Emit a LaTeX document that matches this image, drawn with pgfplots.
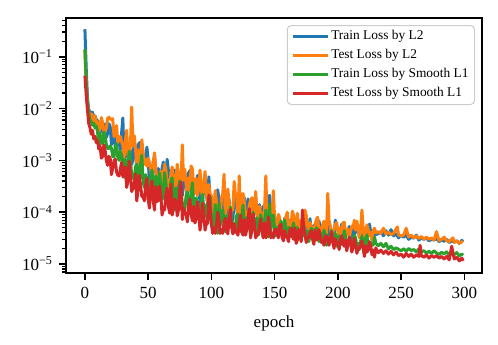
\documentclass[border=0pt]{standalone}
\usepackage{fontspec}
\setmainfont{Liberation Serif}
\usepackage{pgfplots}
\pgfplotsset{compat=1.18}
\definecolor{c0}{HTML}{1F77B4}
\definecolor{c1}{HTML}{FF7F0E}
\definecolor{c2}{HTML}{2CA02C}
\definecolor{c3}{HTML}{D62728}
\newcommand{\dec}[1]{10\raisebox{2.9pt}{\fontsize{6}{6}\selectfont −#1}}
\begin{document}
\begin{tikzpicture}
\useasboundingbox (-33pt,-35.5pt) rectangle (216pt,136.5pt);
\begin{axis}[
  at={(0,0)}, anchor=south west,
  scale only axis, width=208pt, height=127.5pt,
  ymode=log, xmin=-14.95, xmax=313.95, ymin=6.7e-6, ymax=0.56,
  xtick={0,50,...,300},
  ytick={1e-5,1e-4,1e-3,1e-2,1e-1},
  yticklabels={\dec{5},\dec{4},\dec{3},\dec{2},\dec{1}},
  minor ytick={7e-6,8e-6,9e-6,2e-5,3e-5,4e-5,5e-5,6e-5,7e-5,8e-5,9e-5,2e-4,3e-4,4e-4,5e-4,6e-4,7e-4,8e-4,9e-4,2e-3,3e-3,4e-3,5e-3,6e-3,7e-3,8e-3,9e-3,2e-2,3e-2,4e-2,5e-2,6e-2,7e-2,8e-2,9e-2,0.2,0.3,0.4,0.5},
  tick pos=left, tick align=outside,
  major tick length=3.5pt, minor tick length=2pt,
  tick style={black, line width=0.8pt},
  minor tick style={line width=0.6pt},
  axis line style={line width=0.9pt},
  ticklabel style={font=\fontsize{8.5}{10}\selectfont},
  /pgf/number format/assume math mode=true,
  xlabel={epoch},
  xlabel style={font=\fontsize{8.5}{10}\selectfont, yshift=-1.5pt},
  legend cell align=left,
  legend style={at={(1,1)}, anchor=north east, xshift=-3.5pt, yshift=-3.5pt,
    draw=black!20, line width=0.5pt, rounded corners=2pt, fill=white,
    font=\fontsize{6.7}{8}\selectfont, inner xsep=2pt, inner ysep=1.5pt, row sep=1.5pt,
    nodes={inner sep=1pt, text height=4.6pt, text depth=1.4pt}},
  legend image code/.code={\draw[#1, line width=1.5pt] (0pt,0pt) -- (14.5pt,0pt); \path (0pt,0pt) -- (17.5pt,0pt);},
  every axis plot/.append style={line width=1.5pt, line join=round},
]
\addplot[c0] coordinates {
(0,0.34)(1,0.063)(2,0.016)(3,0.0095)(4,0.0088)(5,0.0079)(6,0.0085)(7,0.0068)(8,0.0072)(9,0.0061)(10,0.0058)
(11,2.9e-3)(12,5.5e-3)(13,5.5e-3)(14,3.5e-3)(15,3.4e-3)(16,5.1e-3)(17,2.8e-3)(18,3.3e-3)(19,5.1e-3)(20,4.5e-3)
(21,2.0e-3)(22,3.0e-3)(23,3.6e-3)(24,1.8e-3)(25,1.9e-3)(26,2.6e-3)(27,2.3e-3)(28,1.6e-3)(29,3.3e-3)(30,6.6e-3)
(31,9.0e-4)(32,1.8e-3)(33,2.6e-3)(34,1.15e-3)(35,9.8e-4)(36,1.6e-3)(37,8.3e-4)(38,1.1e-3)(39,2.3e-3)(40,1.5e-3)
(41,6.6e-4)(42,1.9e-3)(43,2.2e-3)(44,9.0e-4)(45,6.1e-4)(46,1.26e-3)(47,8.8e-4)(48,8.7e-4)(49,1.8e-3)(50,1.05e-3)
(51,3.9e-4)(52,5.3e-4)(53,4.6e-4)(54,9.5e-4)(55,1.2e-3)(56,5.9e-4)(57,3.9e-4)(58,7.0e-4)(59,3.6e-4)(60,4.5e-4)
(61,7.0e-4)(62,9.3e-4)(63,3.3e-4)(64,4.3e-4)(65,1.05e-3)(66,6.4e-4)(67,3.0e-4)(68,3.5e-4)(69,3.8e-4)(70,6.7e-4)
(71,2.3e-4)(72,6.2e-4)(73,6.5e-4)(74,3.1e-4)(75,2.5e-4)(76,4.3e-4)(77,2.1e-4)(78,3.2e-4)(79,5.7e-4)(80,4.3e-4)
(81,1.9e-4)(82,5.7e-4)(83,6.4e-4)(84,2.5e-4)(85,1.8e-4)(86,3.5e-4)(87,2.6e-4)(88,2.5e-4)(89,5.1e-4)(90,3.8e-4)
(91,1.5e-4)(92,2.1e-4)(93,1.75e-4)(94,3.2e-4)(95,4.5e-4)(96,2.2e-4)(97,1.5e-4)(98,4.8e-4)(99,1.4e-4)(100,2.0e-4)
(101,1.8e-4)(102,1.25e-4)(103,8.5e-5)(104,1.1e-4)(105,2.7e-4)(106,1.75e-4)(107,7.8e-5)(108,1.2e-4)(109,9.8e-5)(110,1.8e-4)
(111,7.5e-5)(112,1.0e-4)(113,2.1e-4)(114,1.7e-4)(115,8.1e-5)(116,1.1e-4)(117,6.9e-5)(118,2.0e-4)(119,1.9e-4)(120,1.2e-4)
(121,6.9e-5)(122,1.5e-4)(123,2.3e-4)(124,9.7e-5)(125,6.9e-5)(126,1.9e-4)(127,9.2e-5)(128,9.7e-5)(129,1.8e-4)(130,1.26e-4)
(131,6.3e-5)(132,9.2e-5)(133,7.4e-5)(134,1.4e-4)(135,1.9e-4)(136,9.5e-5)(137,6.3e-5)(138,1.4e-4)(139,5.8e-5)(140,8.0e-5)
(141,1.3e-4)(142,1.1e-4)(143,6.2e-5)(144,9.0e-5)(145,2.0e-4)(146,2.1e-4)(147,5.7e-5)(148,8.9e-5)(149,7.1e-5)(150,7.1e-5)
(151,4.2e-5)(152,5.3e-5)(153,7.8e-5)(154,7.4e-5)(155,4.8e-5)(156,5.6e-5)(157,4.0e-5)(158,7.7e-5)(159,7.3e-5)(160,4.8e-5)
(161,4.1e-5)(162,6.2e-5)(163,7.4e-5)(164,5.0e-5)(165,3.9e-5)(166,6.4e-5)(167,4.8e-5)(168,4.3e-5)(169,6.7e-5)(170,5.3e-5)
(171,3.6e-5)(172,4.7e-5)(173,4.4e-5)(174,5.5e-5)(175,7.0e-5)(176,5.0e-5)(177,4.0e-5)(178,7.5e-5)(179,3.5e-5)(180,4.5e-5)
(181,5.5e-5)(182,5.7e-5)(183,3.8e-5)(184,3.9e-5)(185,6.8e-5)(186,5.1e-5)(187,3.3e-5)(188,4.3e-5)(189,4.1e-5)(190,5.4e-5)
(191,3.1e-5)(192,3.8e-5)(193,5.7e-5)(194,4.5e-5)(195,3.5e-5)(196,4.0e-5)(197,3.3e-5)(198,7.0e-5)(199,5.4e-5)(200,4.8e-5)
(201,3.2e-5)(202,3.9e-5)(203,5.9e-5)(204,4.7e-5)(205,3.1e-5)(206,3.5e-5)(207,3.8e-5)(208,4.2e-5)(209,5.3e-5)(210,3.8e-5)
(211,3.1e-5)(212,4.8e-5)(213,3.7e-5)(214,4.1e-5)(215,5.9e-5)(216,5.1e-5)(217,3.4e-5)(218,4.2e-5)(219,3.0e-5)(220,4.6e-5)
(221,4.8e-5)(222,3.7e-5)(223,3.3e-5)(224,4.7e-5)(225,5.9e-5)(226,4.0e-5)(227,2.9e-5)(228,4.3e-5)(229,3.6e-5)(230,3.7e-5)
(232,3.85e-5)(234,4.2e-5)(236,3.5e-5)(238,4.4e-5)(240,3.6e-5)(242,4.6e-5)(244,3.5e-5)(246,3.8e-5)(248,3.2e-5)(250,3.6e-5)
(252,3.3e-5)(254,3.6e-5)(256,3.0e-5)(258,3.3e-5)(260,3.15e-5)(262,3.6e-5)(264,2.9e-5)(266,3.15e-5)(268,3.0e-5)(270,3.2e-5)
(272,2.8e-5)(274,3.0e-5)(276,2.9e-5)(278,3.1e-5)(280,2.7e-5)(282,2.9e-5)(284,2.75e-5)(286,3.0e-5)(288,2.6e-5)(290,2.8e-5)
(292,2.65e-5)(294,2.8e-5)(296,2.5e-5)(298,2.85e-5)(299,2.7e-5)
};
\addlegendentry{Train Loss by L2}
\addplot[c1] coordinates {
(0,0.13)(1,0.03)(2,0.012)(3,0.0089)(4,0.0065)(5,0.0079)(6,0.0074)(7,0.0055)(8,0.0072)(9,0.0050)(10,0.0056)
(11,3.7e-3)(12,4.2e-3)(13,6.7e-3)(14,5.4e-3)(15,3.6e-3)(16,3.6e-3)(17,4.3e-3)(18,6.5e-3)(19,6.8e-3)(20,6.3e-3)
(21,6.2e-3)(22,6.4e-3)(23,2.9e-3)(24,3.0e-3)(25,4.7e-3)(26,2.2e-3)(27,2.7e-3)(28,2.9e-3)(29,2.3e-3)(30,2.0e-3)
(31,1.15e-3)(32,2.4e-3)(33,3.8e-3)(34,1.3e-3)(35,1.05e-3)(36,2.0e-3)(37,1.07e-2)(38,1.9e-3)(39,3.0e-3)(40,1.7e-3)
(41,7.0e-4)(42,1.6e-3)(43,9.8e-4)(44,1.25e-3)(45,2.5e-3)(46,1.5e-3)(47,8.4e-4)(48,1.05e-3)(49,7.7e-4)(50,1.1e-3)
(51,9.1e-4)(52,7.0e-4)(53,4.2e-4)(54,8.4e-4)(55,1.4e-3)(56,7.3e-4)(57,3.6e-4)(58,4.9e-4)(59,4.9e-4)(60,6.2e-4)
(61,2.8e-4)(62,4.6e-4)(63,8.5e-4)(64,6.7e-4)(65,3.3e-4)(66,4.2e-4)(67,2.8e-4)(68,5.6e-4)(69,7.5e-4)(70,4.5e-4)
(71,2.5e-4)(72,3.9e-4)(73,8.4e-4)(74,5.0e-4)(75,2.3e-4)(76,3.8e-4)(77,2.0e-3)(78,4.2e-4)(79,6.7e-4)(80,3.5e-4)
(81,2.1e-4)(82,4.6e-4)(83,2.7e-4)(84,7.8e-4)(85,6.8e-4)(86,3.2e-4)(87,2.3e-4)(88,4.5e-4)(89,2.1e-4)(90,2.9e-4)(91,6.5e-4)
(92,2.8e-4)(93,1.9e-4)(94,3.6e-4)(95,6.1e-4)(96,2.4e-4)(97,1.6e-4)(98,3.4e-4)(99,2.2e-4)(100,2.1e-4)
(101,8.3e-5)(102,1.2e-4)(103,2.6e-4)(104,1.6e-4)(105,9.8e-5)(106,1.25e-4)(107,8.3e-5)(108,1.9e-4)(109,2.3e-4)(110,5.4e-4)
(111,8.4e-5)(112,1.3e-4)(113,2.8e-4)(114,1.6e-4)(115,7.7e-5)(116,1.1e-4)(117,1.1e-4)(118,3.9e-4)(119,2.2e-4)(120,2.0e-4)
(121,7.2e-5)(122,5.0e-4)(123,9.1e-5)(124,1.2e-4)(125,2.3e-4)(126,1.6e-4)(127,7.8e-5)(128,1.0e-4)(129,7.2e-5)(130,1.4e-4)
(131,1.7e-4)(132,1.9e-4)(133,7.8e-5)(134,1.2e-4)(135,2.5e-4)(136,1.0e-4)(137,6.6e-5)(138,1.3e-4)(139,9.0e-5)(140,9.5e-5)
(141,5.5e-5)(142,1.1e-4)(143,5.0e-4)(144,9.0e-5)(145,6.5e-5)(146,1.2e-4)(147,5.5e-5)(148,9.0e-5)(149,2.6e-4)(150,7.5e-5)
(151,5.0e-5)(152,6.3e-5)(153,9.1e-5)(154,7.6e-5)(155,4.8e-5)(156,5.8e-5)(157,5.9e-5)(158,6.7e-5)(159,8.2e-5)(160,1.0e-4)
(161,4.6e-5)(162,6.3e-5)(163,5.5e-5)(164,1.05e-4)(165,8.7e-5)(166,5.4e-5)(167,5.0e-5)(168,9.5e-5)(169,4.4e-5)(170,5.2e-5)
(171,7.1e-5)(172,6.3e-5)(173,4.8e-5)(174,1.1e-4)(175,8.7e-5)(176,5.4e-5)(177,4.2e-5)(178,6.3e-5)(179,5.2e-5)(180,5.0e-5)
(181,3.9e-5)(182,5.8e-5)(183,7.2e-5)(184,8.0e-5)(185,4.4e-5)(186,5.0e-5)(187,3.7e-5)(188,5.8e-5)(189,6.7e-5)(190,4.7e-5)
(191,3.9e-5)(192,2.3e-4)(193,7.0e-5)(194,5.4e-5)(195,3.7e-5)(196,4.5e-5)(197,4.5e-5)(198,5.8e-5)(199,6.3e-5)(200,4.5e-5)
(201,3.4e-5)(202,5.0e-5)(203,4.0e-5)(204,6.2e-5)(205,6.4e-5)(206,4.3e-5)(207,3.7e-5)(208,4.7e-5)(209,3.2e-5)(210,4.2e-5)
(211,5.4e-5)(212,5.0e-5)(213,7.0e-5)(214,4.5e-5)(215,6.7e-5)(216,5.0e-5)(217,3.2e-5)(218,4.4e-5)(219,1.1e-4)(220,4.8e-5)
(221,3.1e-5)(222,4.2e-5)(223,5.7e-5)(224,4.6e-5)(225,3.5e-5)(226,4.1e-5)(227,2.9e-5)(228,4.5e-5)(229,4.9e-5)(230,4.0e-5)
(232,4.2e-5)(234,3.9e-5)(236,4.9e-5)(238,3.8e-5)(240,4.1e-5)(242,3.7e-5)(244,3.9e-5)(247,5.2e-5)(248,3.6e-5)(250,3.5e-5)
(252,3.6e-5)(254,4.9e-5)(256,3.3e-5)(258,3.6e-5)(260,3.2e-5)(262,3.5e-5)(264,3.1e-5)(266,3.4e-5)(268,3.0e-5)(270,3.3e-5)
(272,3.0e-5)(274,3.2e-5)(276,2.9e-5)(278,4.2e-5)(280,2.8e-5)(282,3.0e-5)(284,3.3e-5)(286,2.8e-5)(288,2.7e-5)(291,3.2e-5)
(292,2.6e-5)(294,2.8e-5)(296,2.5e-5)(298,2.7e-5)(299,2.6e-5)
};
\addlegendentry{Test Loss by L2}
\addplot[c2] coordinates {
(0,0.14)(1,0.035)(2,0.0126)(3,0.0079)(4,0.0063)(5,0.0055)(6,0.0048)(7,0.0052)(8,0.0042)(9,0.0046)(10,0.0036)
(11,1.8e-3)(12,3.3e-3)(13,2.2e-3)(14,2.1e-3)(15,3.5e-3)(16,3.0e-3)(17,2.0e-3)(18,1.7e-3)(19,1.7e-3)(20,1.9e-3)
(21,1.7e-3)(22,1.2e-3)(23,1.16e-3)(24,1.8e-3)(25,2.1e-3)(26,1.15e-3)(27,1.0e-3)(28,1.5e-3)(29,1.26e-3)(30,8.0e-4)
(31,4.7e-4)(32,1.05e-3)(33,6.0e-4)(34,6.7e-4)(35,1.5e-3)(36,1.0e-3)(37,5.1e-4)(38,4.7e-4)(39,4.3e-4)(40,7.5e-4)
(41,8.4e-4)(42,5.1e-4)(43,3.9e-4)(44,8.4e-4)(45,1.26e-3)(46,4.0e-4)(47,3.0e-4)(48,5.3e-4)(49,4.5e-4)(50,3.6e-4)
(51,1.9e-4)(52,4.6e-4)(53,6.5e-4)(54,2.9e-4)(55,2.5e-4)(56,5.0e-4)(57,1.9e-4)(58,2.9e-4)(59,5.7e-4)(60,3.3e-4)
(61,1.75e-4)(62,2.1e-4)(63,5.8e-4)(64,3.9e-4)(65,1.6e-4)(66,2.3e-4)(67,2.3e-4)(68,3.9e-4)(69,4.6e-4)(70,2.1e-4)
(71,1.1e-4)(72,2.9e-4)(73,1.5e-4)(74,1.9e-4)(75,4.0e-4)(76,2.9e-4)(77,1.3e-4)(78,1.5e-4)(79,1.1e-4)(80,2.1e-4)
(81,2.45e-4)(82,1.5e-4)(83,1.14e-4)(84,2.2e-4)(85,3.7e-4)(86,1.25e-4)(87,8.8e-5)(88,1.9e-4)(89,1.3e-4)(90,1.4e-4)
(91,6.5e-5)(92,1.5e-4)(93,2.2e-4)(94,1.1e-4)(95,8.5e-5)(96,1.4e-4)(97,6.5e-5)(98,1.6e-4)(99,2.0e-4)(100,8.0e-5)
(101,4.2e-5)(102,4.7e-5)(103,1.4e-4)(104,6.2e-5)(105,3.9e-5)(106,1.5e-4)(107,5.6e-5)(108,7.4e-5)(109,1.1e-4)(110,6.6e-5)
(111,4.2e-5)(112,8.6e-5)(113,4.9e-5)(114,6.0e-5)(115,1.26e-4)(116,7.6e-5)(117,4.2e-5)(118,6.1e-5)(119,4.2e-5)(120,8.6e-5)
(121,9.1e-5)(122,5.2e-5)(123,4.2e-5)(124,7.7e-5)(125,1.37e-4)(126,5.6e-5)(127,3.9e-5)(128,7.9e-5)(129,4.9e-5)(130,6.0e-5)
(131,3.6e-5)(132,6.5e-5)(133,1.0e-4)(134,5.1e-5)(135,3.9e-5)(136,7.8e-5)(137,3.6e-5)(138,4.7e-5)(139,9.0e-5)(140,7.0e-5)
(141,3.3e-5)(142,5.2e-5)(143,1.1e-4)(144,6.1e-5)(145,3.3e-5)(146,1.4e-4)(147,4.4e-5)(148,8.0e-5)(149,8.8e-5)(150,4.7e-5)
(151,3.5e-5)(152,5.1e-5)(153,4.2e-5)(154,4.0e-5)(155,6.7e-5)(156,5.8e-5)(157,3.9e-5)(158,7.0e-5)(159,3.4e-5)(160,4.3e-5)
(161,5.1e-5)(162,3.6e-5)(163,3.4e-5)(164,4.9e-5)(165,6.2e-5)(166,3.6e-5)(167,3.0e-5)(168,5.1e-5)(169,3.7e-5)(170,3.85e-5)
(171,2.8e-5)(172,4.2e-5)(173,5.2e-5)(174,3.4e-5)(175,3.2e-5)(176,4.4e-5)(177,2.7e-5)(178,3.6e-5)(179,4.9e-5)(180,4.6e-5)
(181,2.8e-5)(182,3.15e-5)(183,5.0e-5)(184,3.7e-5)(185,2.7e-5)(186,4.0e-5)(187,3.2e-5)(188,3.0e-5)(189,4.5e-5)(190,3.7e-5)
(191,2.3e-5)(192,3.15e-5)(193,2.8e-5)(194,3.7e-5)(195,4.4e-5)(196,2.75e-5)(197,2.5e-5)(198,3.9e-5)(199,2.2e-5)(200,3.0e-5)
(201,3.5e-5)(202,3.25e-5)(203,2.4e-5)(204,2.6e-5)(205,4.4e-5)(206,3.4e-5)(207,2.1e-5)(208,2.8e-5)(209,2.6e-5)(210,3.0e-5)
(211,2.0e-5)(212,2.7e-5)(213,3.6e-5)(214,3.2e-5)(215,2.2e-5)(216,2.5e-5)(217,1.9e-5)(218,2.8e-5)(219,3.4e-5)(220,2.5e-5)
(221,2.0e-5)(222,3.2e-5)(223,3.6e-5)(224,2.3e-5)(225,1.9e-5)(226,2.6e-5)(227,2.3e-5)(228,2.33e-5)(229,3.3e-5)(230,2.5e-5)
(232,2.25e-5)(234,2.5e-5)(236,2.15e-5)(238,2.5e-5)(240,1.95e-5)(242,2.2e-5)(244,1.9e-5)(246,2.05e-5)(248,1.92e-5)(250,1.8e-5)
(252,1.97e-5)(254,1.77e-5)(256,2.0e-5)(258,1.82e-5)(260,1.9e-5)(262,1.7e-5)(264,1.95e-5)(266,1.74e-5)(268,1.8e-5)(270,1.62e-5)
(272,1.76e-5)(274,1.59e-5)(276,1.8e-5)(278,1.63e-5)(280,1.53e-5)(282,1.68e-5)(284,1.58e-5)(286,1.72e-5)(288,1.47e-5)(290,1.6e-5)
(292,1.52e-5)(294,1.66e-5)(296,1.43e-5)(298,1.56e-5)(299,1.48e-5)
};
\addlegendentry{Train Loss by Smooth L1}
\addplot[c3] coordinates {
(0,0.043)(1,0.019)(2,0.0095)(3,0.0052)(4,0.0043)(5,0.0032)(6,0.0038)(7,0.0026)(8,0.0029)(9,0.0022)(10,0.0024)
(11,1.65e-3)(12,1.9e-3)(13,1.1e-3)(14,1.2e-3)(15,2.0e-3)(16,1.55e-3)(17,9.8e-4)(18,8.0e-4)(19,1.2e-3)(20,1.1e-3)
(21,5.3e-4)(22,7.2e-4)(23,9.8e-4)(24,1.05e-3)(25,6.0e-4)(26,5.2e-4)(27,5.0e-4)(28,6.7e-4)(29,9.2e-4)(30,4.8e-4)
(31,6.4e-4)(32,7.5e-4)(33,3.0e-4)(34,4.0e-4)(35,9.7e-4)(36,5.3e-4)(37,2.5e-4)(38,2.9e-4)(39,3.5e-4)(40,5.5e-4)
(41,1.65e-4)(42,2.8e-4)(43,5.1e-4)(44,3.4e-4)(45,2.0e-4)(46,2.0e-4)(47,1.65e-4)(48,3.2e-4)(49,4.5e-4)(50,1.8e-4)
(51,1.2e-4)(52,2.7e-4)(53,4.0e-4)(54,1.7e-4)(55,1.1e-4)(56,3.1e-4)(57,1.6e-4)(58,1.7e-4)(59,3.2e-4)(60,2.2e-4)
(61,8.8e-5)(62,1.25e-4)(63,1.1e-4)(64,2.2e-4)(65,2.9e-4)(66,1.3e-4)(67,9.6e-5)(68,3.5e-4)(69,8.8e-5)(70,1.25e-4)
(71,1.8e-4)(72,1.6e-4)(73,8.5e-5)(74,1.1e-4)(75,2.7e-4)(76,3.8e-4)(77,7.2e-5)(78,1.2e-4)(79,9.8e-5)(80,9.0e-5)
(81,6.5e-5)(82,1.4e-4)(83,1.8e-4)(84,9.1e-5)(85,6.8e-5)(86,1.3e-4)(87,6.2e-5)(88,7.4e-5)(89,1.6e-4)(90,1.0e-4)
(91,4.5e-5)(92,7.0e-5)(93,1.5e-4)(94,9.0e-5)(95,4.5e-5)(96,6.0e-5)(97,6.0e-5)(98,2.15e-4)(99,1.2e-4)(100,6.0e-5)
(101,3.9e-5)(102,5.0e-5)(103,3.9e-5)(104,5.5e-5)(105,1.0e-4)(106,7.1e-5)(107,3.9e-5)(108,4.6e-5)(109,3.9e-5)(110,6.4e-5)
(111,7.6e-5)(112,4.7e-5)(113,3.8e-5)(114,7.2e-5)(115,1.13e-4)(116,5.1e-5)(117,3.8e-5)(118,6.0e-5)(119,4.1e-5)(120,4.2e-5)
(121,3.6e-5)(122,6.4e-5)(123,8.8e-5)(124,4.3e-5)(125,3.6e-5)(126,7.2e-5)(127,3.6e-5)(128,4.7e-5)(129,7.8e-5)(130,1.17e-4)
(131,3.2e-5)(132,4.6e-5)(133,9.2e-5)(134,5.9e-5)(135,3.2e-5)(136,3.7e-5)(137,3.7e-5)(138,5.3e-5)(139,7.4e-5)(140,4.3e-5)
(141,3.2e-5)(142,6.2e-5)(143,3.2e-5)(144,3.7e-5)(145,8.1e-5)(146,5.6e-5)(147,3.2e-5)(148,4.0e-5)(149,3.2e-5)(150,4.6e-5)
(151,4.7e-5)(152,3.9e-5)(153,3.2e-5)(154,5.4e-5)(155,5.8e-5)(156,3.2e-5)(157,2.8e-5)(158,4.4e-5)(159,3.5e-5)(160,3.25e-5)
(161,2.7e-5)(162,4.5e-5)(163,4.9e-5)(164,3.4e-5)(165,3.0e-5)(166,5.0e-5)(167,2.5e-5)(168,2.9e-5)(169,4.6e-5)(170,4.1e-5)
(171,2.7e-5)(172,1.1e-4)(173,4.9e-5)(174,3.75e-5)(175,2.6e-5)(176,3.25e-5)(177,3.2e-5)(178,4.0e-5)(179,4.4e-5)(180,3.0e-5)
(181,2.4e-5)(182,4.5e-5)(183,2.9e-5)(184,3.1e-5)(185,4.6e-5)(186,3.6e-5)(187,2.6e-5)(188,2.9e-5)(189,2.3e-5)(190,3.5e-5)
(191,3.4e-5)(192,2.9e-5)(193,2.3e-5)(194,3.2e-5)(195,4.2e-5)(196,2.6e-5)(197,2.0e-5)(198,3.1e-5)(199,2.5e-5)(200,2.55e-5)
(201,1.9e-5)(202,3.0e-5)(203,3.5e-5)(204,2.5e-5)(205,2.2e-5)(206,2.9e-5)(207,1.8e-5)(208,2.4e-5)(209,3.3e-5)(210,2.7e-5)
(211,1.7e-5)(212,2.1e-5)(213,3.1e-5)(214,2.5e-5)(215,1.6e-5)(216,2.0e-5)(217,2.0e-5)(218,2.3e-5)(219,2.8e-5)(220,1.95e-5)
(221,1.4e-5)(222,2.25e-5)(223,1.7e-5)(224,1.9e-5)(225,2.7e-5)(226,2.2e-5)(227,1.5e-5)(228,1.85e-5)(229,1.35e-5)(230,2.05e-5)
(232,1.65e-5)(234,1.85e-5)(236,1.6e-5)(238,1.8e-5)(240,1.55e-5)(242,1.75e-5)(244,1.5e-5)(246,1.7e-5)(248,1.45e-5)(250,1.55e-5)
(252,1.35e-5)(254,1.6e-5)(256,1.4e-5)(258,1.55e-5)(260,1.35e-5)(262,1.5e-5)(264,1.4e-5)(265,2.3e-5)(266,1.45e-5)(268,1.35e-5)(270,1.5e-5)
(272,1.3e-5)(274,1.45e-5)(276,1.35e-5)(278,1.45e-5)(280,1.3e-5)(282,1.4e-5)(284,1.25e-5)(286,1.4e-5)(288,1.2e-5)(290,2.2e-5)
(292,1.25e-5)(294,1.35e-5)(296,1.15e-5)(298,1.3e-5)(299,1.15e-5)
};
\addlegendentry{Test Loss by Smooth L1}
\end{axis}
\end{tikzpicture}
\end{document}
